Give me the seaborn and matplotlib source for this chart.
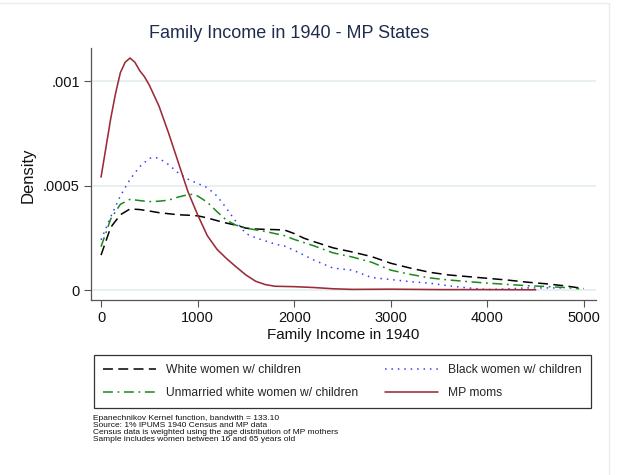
import numpy as np
import pandas as pd
import matplotlib
matplotlib.use("Agg")
import matplotlib.pyplot as plt
from matplotlib.lines import Line2D
import seaborn as sns

# Kernel density estimates of family income, 1940
white_x = [0, 100, 200, 300, 400, 500, 600, 700, 800, 900, 1000, 1100, 1200, 1300,
           1400, 1500, 1600, 1700, 1800, 1900, 2000, 2100, 2200, 2400, 2600, 2800,
           3000, 3200, 3400, 3600, 3800, 4000, 4200, 4400, 4600, 4800, 5000]
white_y = [0.000167, 0.000300, 0.000360, 0.000388, 0.000385, 0.000378, 0.000370,
           0.000365, 0.000360, 0.000358, 0.000355, 0.000345, 0.000332, 0.000320,
           0.000310, 0.000296, 0.000292, 0.000290, 0.000289, 0.000287, 0.000270,
           0.000248, 0.000232, 0.000202, 0.000182, 0.000160, 0.000128, 0.000105,
           0.000085, 0.000072, 0.000064, 0.000056, 0.000048, 0.000038, 0.000030,
           0.000020, 0.000007]

unmarried_x = [0, 100, 200, 300, 400, 500, 600, 700, 800, 900, 950, 1000, 1100, 1200,
               1300, 1400, 1500, 1600, 1700, 1800, 1900, 2000, 2200, 2400, 2600, 2800,
               3000, 3200, 3400, 3600, 3800, 4000, 4200, 4400, 4600, 4800, 4950]
unmarried_y = [0.000207, 0.000340, 0.000410, 0.000434, 0.000428, 0.000423, 0.000425,
               0.000430, 0.000445, 0.000456, 0.000458, 0.000450, 0.000420, 0.000375,
               0.000333, 0.000310, 0.000296, 0.000288, 0.000280, 0.000270, 0.000260,
               0.000242, 0.000212, 0.000178, 0.000158, 0.000133, 0.000095, 0.000075,
               0.000058, 0.000048, 0.000040, 0.000033, 0.000027, 0.000021, 0.000017,
               0.000012, 0.000006]

black_x = [0, 100, 200, 300, 400, 500, 550, 600, 700, 800, 900, 1000, 1100, 1200,
           1300, 1400, 1500, 1600, 1700, 1800, 1900, 2000, 2200, 2400, 2600, 2800,
           3000, 3200, 3400, 3600, 3800, 4000, 4200, 4400, 4600, 4800]
black_y = [0.000240, 0.000350, 0.000450, 0.000530, 0.000590, 0.000630, 0.000635,
           0.000630, 0.000600, 0.000560, 0.000530, 0.000510, 0.000490, 0.000450,
           0.000390, 0.000325, 0.000270, 0.000250, 0.000235, 0.000220, 0.000210,
           0.000190, 0.000144, 0.000105, 0.000095, 0.000060, 0.000050, 0.000040,
           0.000033, 0.000020, 0.000010, 0.000002, 0.000005, 0.000010, 0.000010,
           0.000010]

mp_x = [0, 50, 100, 150, 200, 250, 300, 350, 400, 450, 500, 600, 700, 800, 900,
        1000, 1100, 1200, 1300, 1400, 1500, 1600, 1700, 1800, 2000, 2200, 2400,
        2600, 3000, 3500, 4000, 4500]
mp_y = [0.000540, 0.000680, 0.000820, 0.000940, 0.001040, 0.001090, 0.001110,
        0.001090, 0.001050, 0.001020, 0.000980, 0.000880, 0.000750, 0.000610,
        0.000470, 0.000360, 0.000260, 0.000195, 0.000150, 0.000110, 0.000072,
        0.000042, 0.000026, 0.000018, 0.000016, 0.000012, 0.000006, 0.000003,
        0.000004, 0.000002, 0.000002, 0.000001]

series_labels = ["White women w/ children", "Unmarried white women w/ children",
                 "Black women w/ children", "MP moms"]
x_ticks = [0, 1000, 2000, 3000, 4000, 5000]
y_ticks = [0, 0.0005, 0.001]
y_tick_labels = ["0", ".0005", ".001"]

notes = ["Epanechnikov Kernel function, bandwith = 133.10",
         "Source: 1% IPUMS 1940 Census and MP data",
         "Census data is weighted using the age distribution of MP mothers",
         "Sample includes women between 16 and 65 years old"]

sns.set_theme(style="white")
plt.rcParams["font.family"] = ["Liberation Sans", "DejaVu Sans"]

fig = plt.figure(figsize=(6.19, 4.75), dpi=100)
ax = fig.add_axes([91 / 619, 1 - 300 / 475, (596 - 91) / 619, (300 - 48) / 475])

styles = [
    (white_x, white_y, "#000000", (0, (6.5, 3.5)), 1.1),
    (unmarried_x, unmarried_y, "#1a8a1a", (0, (6.5, 3, 1.2, 3)), 1.1),
    (black_x, black_y, "#3b3bff", (0, (1, 3.2)), 1.1),
    (mp_x, mp_y, "#9b2c36", "-", 1.15),
]
handles = []
for (xs, ys, col, ls, lw), lab in zip(styles, series_labels):
    df = pd.DataFrame({"income": xs, "density": ys})
    sns.lineplot(data=df, x="income", y="density", ax=ax, color=col,
                 linestyle=ls, linewidth=lw, label=lab, estimator=None, sort=False)
    handles.append(Line2D([], [], color=col, linestyle=ls, linewidth=lw))
if ax.get_legend() is not None:
    ax.get_legend().remove()

ax.set_xlim(-104, 5124)
ax.set_ylim(-0.0000478, 0.001158)
ax.set_xticks(x_ticks)
ax.set_xticklabels([str(v) for v in x_ticks])
ax.set_yticks(y_ticks)
ax.set_yticklabels(y_tick_labels)
ax.grid(axis="y", color="#e4eced", linewidth=1.2)
ax.grid(axis="x", visible=False)
ax.set_axisbelow(True)
for side in ["top", "right"]:
    ax.spines[side].set_visible(False)
for side in ["left", "bottom"]:
    ax.spines[side].set_color("#555555")
    ax.spines[side].set_linewidth(0.9)
ax.tick_params(axis="both", which="major", direction="out", length=5, width=0.8,
               color="#555555", labelsize=10.5, labelcolor="#111111",
               left=True, bottom=True, pad=3)
ax.set_xlabel("Family Income in 1940", fontsize=10.9, color="#111111")
ax.set_ylabel("Density", fontsize=12, color="#111111")
ax.xaxis.set_label_coords((343 - 91) / (596 - 91), -(328 - 300) / (300 - 48))
ax.yaxis.set_label_coords(-(91 - 36) / (596 - 91), (300 - 175) / (300 - 48))

fig.text(289 / 619, 1 - 33.5 / 475, "Family Income in 1940 - MP States",
         ha="center", va="center", fontsize=13, color="#1f2d4d")

order = [0, 1, 2, 3]
leg = fig.legend([handles[i] for i in order], [series_labels[i] for i in order],
                 ncol=2, loc="center",
                 bbox_to_anchor=((97 + 588) / 2 / 619, 1 - (355 + 408) / 2 / 475),
                 fontsize=8.7, frameon=True, fancybox=False, framealpha=1,
                 edgecolor="#333333", handlelength=4.4, handletextpad=0.85,
                 columnspacing=2.2, labelspacing=0.95, borderpad=0.75)
leg.get_frame().set_linewidth(0.9)

fig.text(93 / 619, 1 - 414.5 / 475, "\n".join(notes), ha="left", va="top",
         fontsize=6.0, linespacing=1.02, color="#111111")

# light outer frame of the graph region
fig.add_artist(Line2D([0, 609 / 619], [1 - 3 / 475, 1 - 3 / 475],
                      transform=fig.transFigure, color="#e8eef0", linewidth=1))
fig.add_artist(Line2D([609 / 619, 609 / 619], [0, 1 - 3 / 475],
                      transform=fig.transFigure, color="#e8eef0", linewidth=1))

fig.savefig("out.png", dpi=100, facecolor="white")
